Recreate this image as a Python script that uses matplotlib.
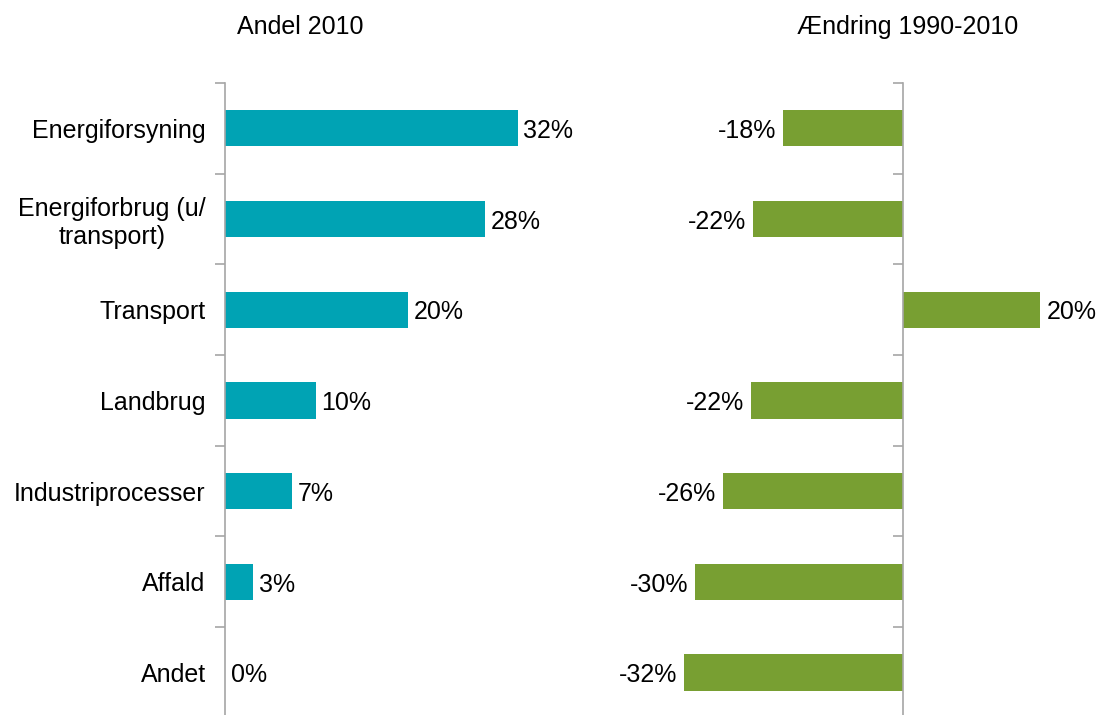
import matplotlib
matplotlib.use('Agg')
import matplotlib.pyplot as plt
import numpy as np

plt.rcParams['font.family'] = ['Liberation Sans', 'DejaVu Sans']

# data
categories = ['Energiforsyning', 'Energiforbrug (u/\ntransport)', 'Transport',
              'Landbrug', 'Industriprocesser', 'Affald', 'Andet']
andel_2010 = [32.0, 28.4, 20.0, 9.9, 7.3, 3.1, 0.0]
aendring = [-17.6, -22.0, 20.0, -22.3, -26.4, -30.4, -32.1]
andel_labels = ['32%', '28%', '20%', '10%', '7%', '3%', '0%']
aendring_labels = ['-18%', '-22%', '20%', '-22%', '-26%', '-30%', '-32%']

teal = '#00A3B4'
green = '#789F32'
axis_grey = '#A6A6A6'
fs = 18

fig = plt.figure(figsize=(11.01, 7.15), dpi=100)
ax1 = fig.add_axes([0.2044, -0.004, 0.3325, 0.888])
ax2 = fig.add_axes([0.572, -0.004, 0.404, 0.888])

y = np.arange(len(categories))

def setup(ax):
	for s in ['top', 'right', 'bottom']:
		ax.spines[s].set_visible(False)
	ax.spines['left'].set_position(('data', 0))
	ax.spines['left'].set_color(axis_grey)
	ax.spines['left'].set_linewidth(1.2)
	ax.set_ylim(len(categories) - 0.5, -0.5)
	ax.set_yticks(y)
	ax.set_yticks(np.arange(-0.5, len(categories)), minor=True)
	ax.tick_params(axis='y', which='major', length=0, pad=14, labelsize=fs)
	ax.tick_params(axis='y', which='minor', length=7, color=axis_grey, width=1.2)
	ax.set_xticks([])

# left panel
ax1.barh(y, andel_2010, height=0.4, color=teal)
ax1.set_xlim(0, 40)
setup(ax1)
ax1.set_yticklabels(categories)
for t in ax1.get_yticklabels():
	t.set_multialignment('center')
for yi, v, lab in zip(y, andel_2010, andel_labels):
	ax1.text(v + 0.6, yi + 0.03, lab, va='center', ha='left', fontsize=fs)

# right panel
ax2.barh(y, aendring, height=0.4, color=green)
ax2.set_xlim(-40, 25)
setup(ax2)
ax2.set_yticklabels([])
for yi, v, lab in zip(y, aendring, aendring_labels):
	if v < 0:
		ax2.text(v - 1.0, yi + 0.03, lab, va='center', ha='right', fontsize=fs)
	else:
		ax2.text(v + 1.0, yi + 0.03, lab, va='center', ha='left', fontsize=fs)

fig.text(300 / 1101, 1 - 27 / 715, 'Andel 2010', ha='center', va='center', fontsize=fs)
fig.text(908 / 1101, 1 - 27 / 715, 'Ændring 1990-2010', ha='center', va='center', fontsize=fs)

fig.savefig('out.png', dpi=100)
